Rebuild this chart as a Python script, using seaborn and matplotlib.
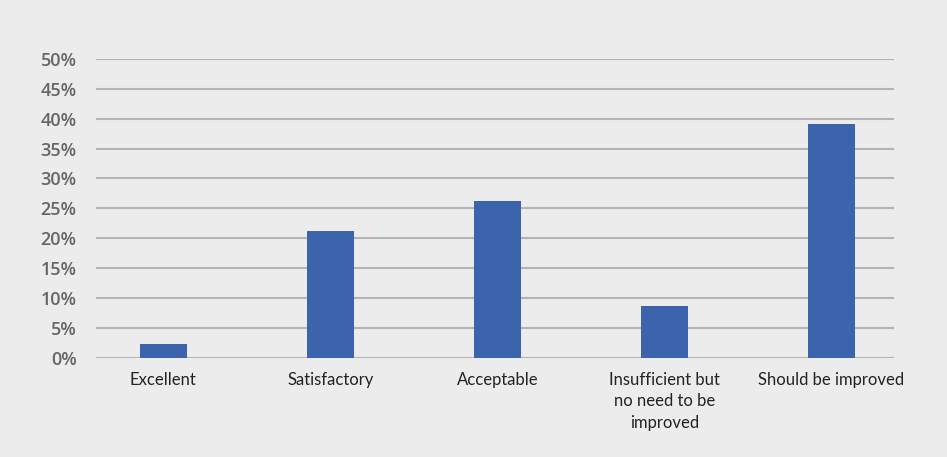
import pandas as pd
import numpy as np
import matplotlib
matplotlib.use('agg')
import matplotlib.pyplot as plt
import seaborn as sns

categories = ["Excellent", "Satisfactory", "Acceptable",
              "Insufficient but\nno need to be\nimproved", "Should be improved"]
shares = [2.3, 21.2, 26.2, 8.7, 39.1]
yticks = [0, 5, 10, 15, 20, 25, 30, 35, 40, 45, 50]

dfData = pd.DataFrame({"category": categories, "share": shares})

sns.set_style("white")
bg = "#ececec"
fig = plt.figure(figsize=(9.47, 4.57), dpi=100, facecolor=bg)
ax = fig.add_axes([0.1014, 0.2173, 0.8426, 0.6536])
ax.set_facecolor(bg)

# bars, no outline
sns.barplot(data=dfData, x="category", y="share", color="#3c64ad",
            saturation=1, width=0.28, linewidth=0, ax=ax, zorder=3)

ax.set_ylim(0, 50)
ax.set_xlim(-0.403, 4.375)
ax.set_yticks(yticks)
ax.set_yticklabels([str(t) + "%" for t in yticks], fontfamily="Open Sans",
                   fontsize=13, fontweight="semibold", color="#666666")
ax.set_xticks(range(len(categories)))
ax.set_xticklabels(categories, fontfamily="Lato", fontsize=12,
                   color="#222222", linespacing=1.42)
ax.tick_params(axis="y", length=0, pad=14)
ax.tick_params(axis="x", length=0, pad=10)
for lbl in ax.get_xticklabels():
    lbl.set_verticalalignment("top")
    lbl.set_horizontalalignment("center")

ax.grid(axis="y", color="#b4b4b4", linewidth=1.5, zorder=0)
ax.set_axisbelow(True)
for s in ax.spines.values():
    s.set_visible(False)
ax.set_xlabel("")
ax.set_ylabel("")

fig.savefig("out.png", dpi=100, facecolor=bg)
